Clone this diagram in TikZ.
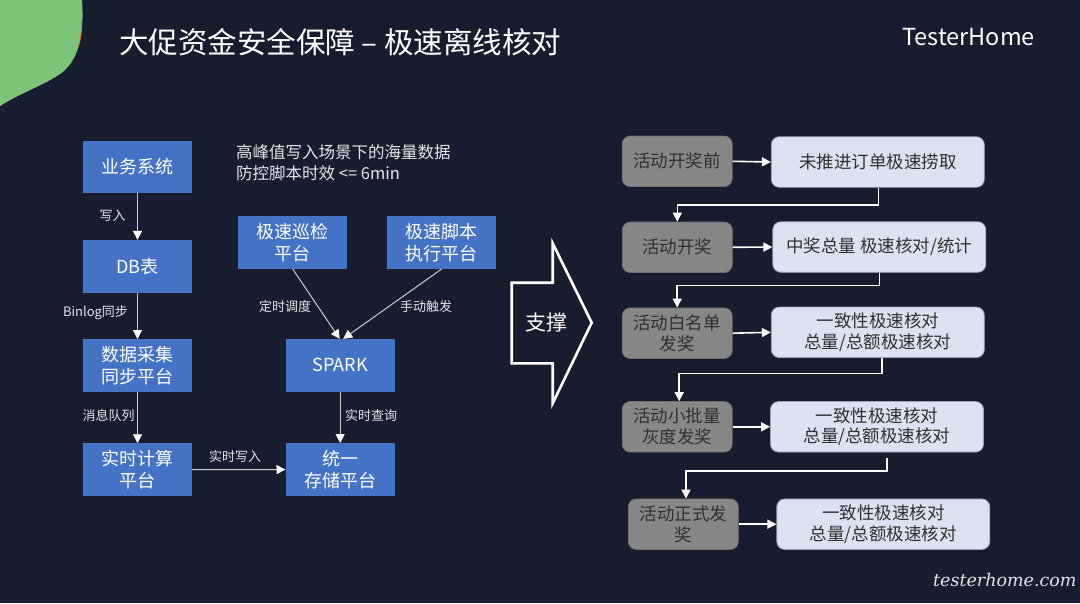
\documentclass[tikz,border=0pt]{standalone}
\usepackage{fontspec}
\setmainfont{Noto Sans CJK SC}
\usetikzlibrary{arrows.meta,calc}
\definecolor{bgc}{HTML}{171C2E}
\definecolor{greenc}{HTML}{7CC47A}
\definecolor{bluec}{HTML}{4472C4}
\definecolor{grayc}{HTML}{878787}
\definecolor{grayb}{HTML}{6E6E6E}
\definecolor{lightc}{HTML}{DBE3F2}
\definecolor{lightb}{HTML}{9AA3B3}
\definecolor{linec}{HTML}{CCCCCC}
\definecolor{txtlight}{HTML}{E6E6E6}
\definecolor{txtdark}{HTML}{303030}
\tikzset{
  bluebox/.style={fill=bluec, minimum width=109pt, minimum height=52.5pt, text=white, align=center, inner sep=0pt, font=\fontsize{18}{21.5}\selectfont},
  edgelbl/.style={text=txtlight, font=\fontsize{13}{15}\selectfont, inner sep=0pt},
  conn/.style={draw=linec, line width=1pt, -{Triangle[width=9pt,length=9pt,color=white,fill=white]}},
  stagebox/.style={fill=grayc, draw=grayb, line width=0.8pt, rounded corners=8pt, minimum width=110pt, minimum height=50.5pt, text=txtdark, align=center, inner sep=0pt, font=\fontsize{17.5}{21}\selectfont},
  checkbox/.style={fill=lightc, draw=lightb, line width=0.8pt, rounded corners=8pt, minimum width=213pt, minimum height=50.5pt, text=txtdark, align=center, inner sep=0pt, font=\fontsize{17.5}{20.5}\selectfont},
  flow/.style={draw=white, line width=1.6pt, -{Triangle[width=9pt,length=9pt]}},
}
\begin{document}
\begin{tikzpicture}[x=1pt,y=-1pt]
\useasboundingbox (0,0) rectangle (1080,603);
\fill[bgc] (0,0) rectangle (1080,603);
% green blob
\fill[greenc] (0,0) -- (82,0) .. controls (84,30) and (81,55) .. (64,71) .. controls (48,84) and (22,92) .. (0,106) -- cycle;
\draw[orange!80!red, line width=0.7pt] (81.5,22) .. controls (81.5,32) and (80.5,40) .. (78.5,46);
% title
\node[anchor=west, text=white, font=\fontsize{29.5}{32}\selectfont, inner sep=0pt] (title) at (119,42) {大促资金安全保障 – 极速离线核对};
\node[anchor=west, text=white, font=\fontsize{23.5}{26}\selectfont, inner sep=0pt] (brand) at (902,37) {TesterHome};
% left diagram
\node[bluebox] (b1) at (137.5,167) {业务系统};
\node[bluebox] (b2) at (137.5,266.3) {DB表};
\node[bluebox] (b3) at (137.5,365.5) {数据采集\\同步平台};
\node[bluebox] (b4) at (137.5,469.7) {实时计算\\平台};
\node[bluebox] (c1) at (292.7,242.5) {极速巡检\\平台};
\node[bluebox] (c2) at (441.7,242.5) {极速脚本\\执行平台};
\node[bluebox] (sp) at (340.2,365.3) {SPARK};
\node[bluebox] (st) at (340.2,469.5) {统一\\存储平台};
\node[anchor=west, text=txtlight, align=left, inner sep=0pt, font=\fontsize{16.5}{21.3}\selectfont] (note) at (236,162.5) {高峰值写入场景下的海量数据\\防控脚本时效 <= 6min};
\draw[conn] (b1) -- (b2);
\draw[conn] (b2) -- (b3);
\draw[conn] (b3) -- (b4);
\draw[conn] (b4) -- (st);
\draw[conn] (sp) -- (st);
\draw[conn] (c1.south) -- ($(sp.north)+(-0.5,0)$);
\draw[conn] (c2.south) -- ($(sp.north)+(3,0)$);
\node[edgelbl] (l-a) at (112.5,215.5) {写入};
\node[edgelbl] (l-b) at (95.5,313) {Binlog同步};
\node[edgelbl] (l-c) at (108.5,416) {消息队列};
\node[edgelbl] (l-d) at (235,456.5) {实时写入};
\node[edgelbl] (l-e) at (285,307) {定时调度};
\node[edgelbl] (l-f) at (426,307) {手动触发};
\node[edgelbl] (l-g) at (371,415.5) {实时查询};
% support arrow
\draw[white, line width=2.6pt, line join=miter] (511.7,282.7) -- (552.7,282.7) -- (552.7,243.3) -- (591.7,322.7) -- (552.7,403.3) -- (552.7,363.3) -- (511.7,363.3) -- cycle;
\node[text=white, font=\fontsize{21}{24}\selectfont, inner sep=0pt] (sup) at (546.7,322.7) {支撑};
% right flow
\node[stagebox] (g1) at (677.2,161.3) {活动开奖前};
\node[stagebox] (g2) at (677.3,247.3) {活动开奖};
\node[stagebox] (g3) at (677.2,333.2) {活动白名单\\发奖};
\node[stagebox] (g4) at (677.2,426.8) {活动小批量\\灰度发奖};
\node[stagebox] (g5) at (683.3,524.2) {活动正式发\\奖};
\node[checkbox] (k1) at (877.8,162) {未推进订单极速捞取};
\node[checkbox] (k2) at (879.3,247) {中奖总量 极速核对/统计};
\node[checkbox] (k3) at (877.8,332.3) {一致性极速核对\\总量/总额极速核对};
\node[checkbox] (k4) at (877,426.8) {一致性极速核对\\总量/总额极速核对};
\node[checkbox] (k5) at (883.3,524.2) {一致性极速核对\\总量/总额极速核对};
\foreach \i in {1,...,5} {\draw[flow] (g\i.east) -- (k\i.west);}
\draw[flow] ($(k1.south)+(0.5,0)$) -- ++(0,17.5) -| (g2.north);
\draw[flow] (k2.south) -- ++(0,13) -| (g3.north);
\draw[flow] ($(k3.south)+(4,0)$) -- ++(0,15.6) -| ($(g4.north)+(2,0)$);
\draw[flow] ($(k4.south)+(10,6)$) -- ++(0,12.4) -| ($(g5.north)+(2.7,0)$);
% watermark
\node[anchor=west, text=txtlight, font=\fontspec{DejaVu Serif}\itshape\fontsize{17.5}{20}\selectfont, inner sep=0pt] (wm) at (933,580) {testerhome.com};
\end{tikzpicture}
\end{document}
